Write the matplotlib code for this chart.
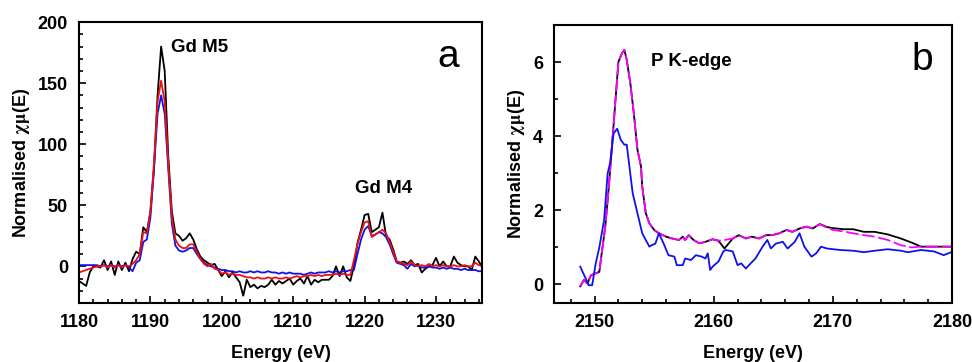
# XANES spectra: Gd M4,5 edges (a) and P K-edge (b)

import numpy as np
import matplotlib.pyplot as plt
from matplotlib.ticker import MultipleLocator

plt.rcParams['font.family'] = ['Liberation Sans', 'DejaVu Sans']
plt.rcParams['font.weight'] = 'bold'
plt.rcParams['mathtext.fontset'] = 'stix'

# ---- panel a: Gd M edges, 0.5 eV grid starting at 1180 eV
gd_start = 1180.0
gd_step = 0.5
gd_black = [-12, -14, -16, -5, 0, 0, -1, 5, -3, 4, -7, 4, -3, 3, -4, 6,
            12, 10, 32, 28, 45, 80, 140, 180, 160, 90, 45, 27, 25, 21, 23, 27,
            22, 14, 8, 5, 3, 1, 2, -3, -8, -4, -9, -5, -9, -13, -24, -11,
            -17, -15, -18, -16, -17, -15, -11, -15, -12, -14, -12, -10, -15, -12,
            -10, -14, -8, -15, -11, -13, -11, -11, -11, -8, 0, -8, 0, -9,
            -12, 0, 19, 30, 42, 43, 28, 30, 32, 44, 25, 22, 14, 4, 3, 4,
            2, 5, 1, 2, -5, -2, 0, 1, 7, 0, 4, 0, 0, 8, 3, 1,
            0, 0, -3, 8, 4, -1, -2]
gd_blue = [1, 1, 1, 1, 1, 1, 0, 1, 0, 1, 0, 1, 0, 1, -1, -4,
           3, 5, 20, 22, 40, 80, 125, 140, 125, 80, 35, 17, 13, 12, 13, 15,
           15, 10, 6, 3, 1, 0, -1, -2, -3, -3, -4, -4, -5, -4, -5, -5,
           -4, -5, -4, -5, -5, -4, -5, -5, -6, -5, -6, -5, -6, -6,
           -6, -7, -6, -5, -6, -5, -5, -5, -4, -5, -4, -5, -4, -4,
           -3, -3, 10, 22, 30, 33, 25, 26, 28, 27, 24, 18, 10, 3, 2, 1,
           -2, 2, 0, 1, -1, -1, 0, -1, -1, -2, -1, -2, -1, -2, -2, -3,
           -2, -3, -3, -3, -4, -4, -4]
gd_red = [-5, -4, -3, -2, -1, 0, 0, 1, -1, 1, -1, 1, -1, 1, 0, 2,
          5, 10, 28, 27, 45, 85, 135, 152, 135, 85, 40, 22, 17, 15, 15, 18,
          18, 12, 6, 2, 0, 2, -2, -3, -6, -5, -7, -6, -7, -7, -8, -9,
          -9, -10, -9, -10, -10, -9, -10, -9, -10, -10, -9, -10, -9, -8,
          -9, -8, -8, -7, -8, -7, -8, -7, -7, -7, -6, -7, -6, -7,
          -7, 5, 18, 28, 36, 37, 24, 26, 28, 30, 27, 20, 12, 4, 3, 2,
          1, 4, 1, 0, 1, 0, 2, 0, 1, 0, 1, 0, 0, 1, 0, 0,
          1, 0, 0, 3, 1, 0, -1]

# ---- panel b: P K-edge
pk_e = [2148.8, 2149.1, 2149.4, 2149.7, 2150.1, 2150.4, 2150.6, 2150.9, 2151.2,
        2151.5, 2151.8, 2152.0, 2152.3, 2152.5, 2152.7, 2153.0, 2153.3, 2153.6,
        2153.9, 2154.0, 2154.3, 2154.6, 2155.0, 2155.4, 2156.0, 2156.5, 2157.1,
        2157.4, 2157.6, 2157.9, 2158.3, 2158.8, 2159.3, 2159.9, 2160.4, 2160.9,
        2161.6, 2162.1, 2162.7, 2163.2, 2163.8, 2164.4, 2164.9, 2165.5, 2166.1,
        2166.6, 2167.2, 2167.8, 2168.3, 2168.9, 2169.5, 2170.0, 2170.9, 2171.7,
        2172.6, 2173.5, 2174.6, 2175.7, 2176.6, 2177.4, 2180.0]
pk_magenta = [-0.05, 0.12, 0.03, 0.25, 0.3, 0.34, 0.84, 1.56, 2.64,
              3.9, 5.16, 6.0, 6.24, 6.33, 6.06, 5.43, 4.6, 3.63,
              3.18, 2.64, 1.92, 1.65, 1.47, 1.38, 1.29, 1.24, 1.2,
              1.29, 1.2, 1.33, 1.2, 1.11, 1.15, 1.22, 1.18, 1.2,
              1.24, 1.33, 1.24, 1.29, 1.24, 1.33, 1.33, 1.38, 1.47,
              1.42, 1.51, 1.56, 1.51, 1.63, 1.53, 1.47, 1.43, 1.38,
              1.33, 1.29, 1.2, 1.06, 1.0, 1.02, 1.02]
pk_black = [-0.05, 0.12, 0.03, 0.25, 0.3, 0.34, 0.84, 1.56, 2.64,
            3.9, 5.16, 6.0, 6.24, 6.33, 6.06, 5.43, 4.6, 3.63,
            3.18, 2.64, 1.92, 1.65, 1.47, 1.38, 1.29, 1.24, 1.2,
            1.29, 1.2, 1.33, 1.2, 1.11, 1.15, 1.22, 1.18, 0.97,
            1.24, 1.33, 1.24, 1.29, 1.24, 1.33, 1.33, 1.38, 1.47,
            1.42, 1.51, 1.56, 1.51, 1.63, 1.55, 1.52, 1.49, 1.49,
            1.42, 1.42, 1.35, 1.24, 1.13, 1.02, 1.02]
pk_blue_e = [2148.8, 2149.2, 2149.5, 2149.8, 2150.1, 2150.4, 2150.8, 2151.1, 2151.3,
             2151.6, 2151.9, 2152.2, 2152.5, 2152.7, 2153.2, 2153.6, 2154.0, 2154.3,
             2154.6, 2154.8, 2155.1, 2155.4, 2155.8, 2156.2, 2156.7, 2156.9, 2157.4,
             2157.6, 2158.1, 2158.5, 2159.0, 2159.3, 2159.5, 2159.7, 2159.9, 2160.4,
             2160.8, 2161.0, 2161.6, 2162.0, 2162.3, 2162.7, 2163.1, 2163.5, 2164.1,
             2164.5, 2164.8, 2165.2, 2165.8, 2166.2, 2166.8, 2167.2, 2167.6, 2168.2,
             2168.6, 2169.0, 2169.5, 2170.6, 2171.7, 2172.6, 2173.5, 2174.6, 2175.7,
             2176.3, 2177.4, 2178.5, 2179.3, 2180.0]
pk_blue = [0.48, 0.2, -0.02, -0.02, 0.57, 1.0, 1.74, 3.0, 3.27,
           4.08, 4.2, 3.9, 3.77, 3.77, 2.46, 1.92, 1.38, 1.2,
           1.02, 1.06, 1.1, 1.38, 1.1, 0.79, 0.75, 0.52, 0.52,
           0.7, 0.66, 0.79, 0.75, 0.7, 0.84, 0.39, 0.48, 0.62,
           0.89, 0.93, 0.89, 0.52, 0.57, 0.43, 0.57, 0.7, 1.02,
           1.2, 0.97, 1.1, 1.15, 0.97, 1.15, 1.38, 1.02, 0.75,
           0.84, 1.02, 0.97, 0.93, 0.91, 0.87, 0.91, 0.95, 0.91,
           0.87, 0.93, 0.89, 0.79, 0.88]

gd_e_black = gd_start + gd_step * np.arange(len(gd_black))
gd_e_blue = gd_start + gd_step * np.arange(len(gd_blue))
gd_e_red = gd_start + gd_step * np.arange(len(gd_red))

fig = plt.figure(figsize=(9.72, 3.62), dpi=100)
ax1 = fig.add_axes([0.0813, 0.163, 0.415, 0.776])
ax2 = fig.add_axes([0.570, 0.163, 0.4095, 0.768])

lw = 1.3
ax1.plot(gd_e_black, gd_black, color='black', lw=lw)
ax1.plot(gd_e_blue, gd_blue, color='#1010ee', lw=lw)
ax1.plot(gd_e_red, gd_red, color='#ee1010', lw=lw)
ax1.set_xlim(1180, 1236.5)
ax1.set_ylim(-30, 200)
ax1.xaxis.set_major_locator(MultipleLocator(10))
ax1.xaxis.set_minor_locator(MultipleLocator(2))
ax1.yaxis.set_major_locator(MultipleLocator(50))
ax1.yaxis.set_minor_locator(MultipleLocator(10))
ax1.text(1192.9, 179, 'Gd M5', fontsize=13.5, fontweight='bold', va='center')
ax1.text(1218.6, 64, 'Gd M4', fontsize=13.5, fontweight='bold', va='center')
ax1.text(0.916, 0.875, 'a', transform=ax1.transAxes, fontsize=28,
         fontweight='normal', ha='center', va='center')

ax2.plot(pk_e, pk_black, color='black', lw=lw)
ax2.plot(pk_e, pk_magenta, color='#ff00ff', lw=lw, dashes=(7, 2))
ax2.plot(pk_blue_e, pk_blue, color='#1010ee', lw=lw)
ax2.set_xlim(2146.6, 2180)
ax2.set_ylim(-0.5, 7)
ax2.xaxis.set_major_locator(MultipleLocator(10))
ax2.xaxis.set_minor_locator(MultipleLocator(2))
ax2.yaxis.set_major_locator(MultipleLocator(2))
ax2.yaxis.set_minor_locator(MultipleLocator(1))
ax2.text(2154.7, 6.02, 'P K-edge', fontsize=13.5, fontweight='bold', va='center')
ax2.text(0.926, 0.874, 'b', transform=ax2.transAxes, fontsize=28,
         fontweight='normal', ha='center', va='center')

for ax in (ax1, ax2):
    for s in ax.spines.values():
        s.set_linewidth(1.5)
    ax.tick_params(which='both', direction='in', labelsize=13, width=1.2)
    ax.tick_params(which='major', length=5, pad=8)
    ax.tick_params(which='minor', length=3)
    ax.set_xlabel('Energy (eV)', fontsize=13, fontweight='bold', labelpad=10)
    ax.set_ylabel(r'Normalised $\mathrm{\chi\mu}$(E)', fontsize=13, fontweight='bold',
                  labelpad=4)

fig.savefig('out.png', dpi=100)
